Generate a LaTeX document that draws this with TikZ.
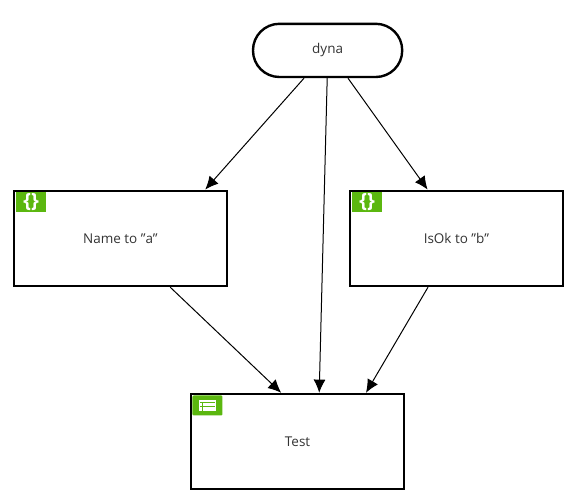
\documentclass[tikz,border=0pt]{standalone}
\usepackage{fontspec}
\setmainfont[Ligatures=ResetAll]{Open Sans}
\definecolor{icongreen}{HTML}{5BB70F}
\definecolor{labelgray}{HTML}{333333}
\tikzset{
  stepbox/.style={draw=black, line width=0.06cm, fill=white, minimum width=5.33cm, minimum height=2.38cm, inner sep=0pt, font=\fontsize{9.6}{11}\selectfont, text=labelgray},
  startbox/.style={stepbox, rounded corners=0.66cm, minimum width=3.73cm, minimum height=1.33cm},
  iconbox/.style={fill=icongreen, minimum width=0.75cm, minimum height=0.5cm, inner sep=0pt, text=white, font=\fontsize{14}{14}\bfseries\selectfont},
  flow/.style={-{Latex[length=0.33cm,width=0.3cm]}, black, line width=0.025cm}
}
\usetikzlibrary{arrows.meta}
\begin{document}
\begin{tikzpicture}
    % page
    \path[use as bounding box, fill=white] (0,0) rectangle (14.525,-12.55);

    % nodes
    \node[startbox] (dyna) at (8.19,-1.26) {dyna};
    \node[stepbox] (name) at (3.01,-5.96) {Name to \symbol{34}a\symbol{34}};
    \node[stepbox] (isok) at (11.41,-5.96) {IsOk to \symbol{34}b\symbol{34}};
    \node[stepbox] (test) at (7.44,-11.04) {Test};

    % icons
    \node[iconbox, anchor=north west] (nameicon) at ([xshift=0.08cm,yshift=-0.06cm]name.north west) {\{\}};
    \node[iconbox, anchor=north west] (isokicon) at ([xshift=0.08cm,yshift=-0.06cm]isok.north west) {\{\}};
    \node[iconbox, anchor=north west, rounded corners=0.03cm] (testicon) at ([xshift=0.06cm,yshift=-0.06cm]test.north west) {};
    \fill[white] ([xshift=-0.22cm,yshift=-0.13cm]testicon.center) rectangle ([xshift=0.22cm,yshift=0.13cm]testicon.center);
    \draw[icongreen, line width=0.022cm] ([xshift=-0.12cm,yshift=-0.13cm]testicon.center) -- ([xshift=-0.12cm,yshift=0.07cm]testicon.center);
    \draw[icongreen, line width=0.022cm] ([xshift=-0.18cm,yshift=0.07cm]testicon.center) -- ([xshift=0.18cm,yshift=0.07cm]testicon.center);
    \draw[icongreen, line width=0.022cm] ([xshift=-0.18cm,yshift=-0.03cm]testicon.center) -- ([xshift=0.18cm,yshift=-0.03cm]testicon.center);

    % connectors
    \draw[flow] ([xshift=-0.59cm]dyna.south) -- ([xshift=2.12cm]name.north);
    \draw[flow] ([xshift=-0.01cm]dyna.south) -- ([xshift=0.54cm]test.north);
    \draw[flow] ([xshift=0.51cm]dyna.south) -- ([xshift=-0.72cm]isok.north);
    \draw[flow] ([xshift=1.245cm]name.south) -- ([xshift=-0.41cm]test.north);
    \draw[flow] ([xshift=-0.71cm]isok.south) -- ([xshift=1.71cm]test.north);
\end{tikzpicture}
\end{document}
